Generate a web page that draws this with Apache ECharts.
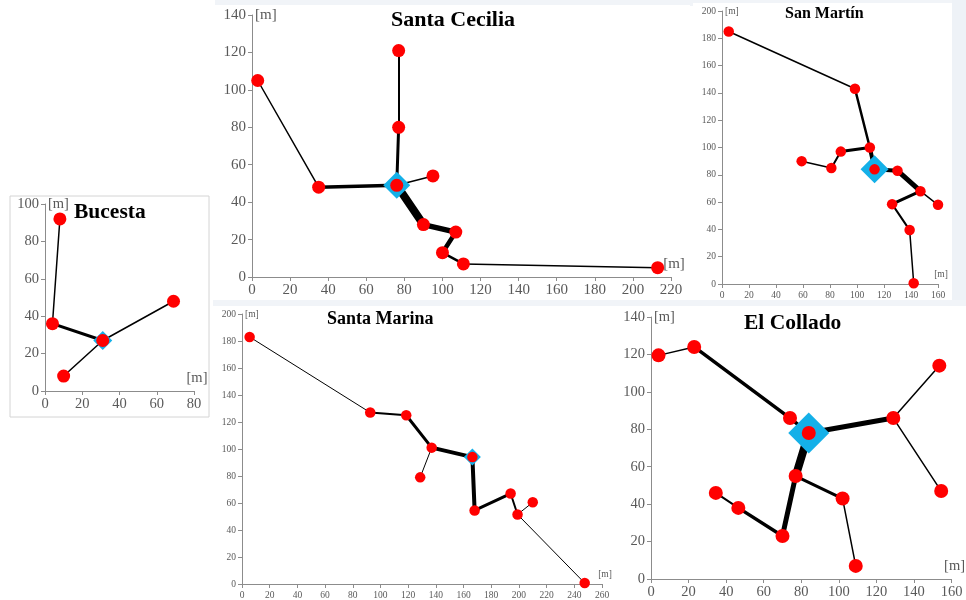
<!DOCTYPE html>
<html><head><meta charset="utf-8">
<script src="https://cdn.jsdelivr.net/npm/echarts@6/dist/echarts.min.js"></script>
<style>html,body{margin:0;padding:0;background:#fff}#c{width:966px;height:600px}</style>
</head><body><div id="c"></div>
<script>
// ---------- DATA ----------
const bucestaNodes = [[8,92],[4,36],[31,27],[69,48],[10,8]];
const bucestaEdges = [[0,1],[1,2],[2,3],[2,4]];
const bucestaFlow  = [1.5,3,1.5,1.5];
const bucestaSource = 2;

const ceciliaNodes = [[3,105],[35,48],[76,49],[77,121],[77,80],[95,54],[90,28],[107,24],[100,13],[111,7],[213,5]];
const ceciliaEdges = [[0,1],[1,2],[2,4],[4,3],[2,5],[2,6],[6,7],[7,8],[8,9],[9,10]];
const ceciliaFlow  = [1.5,3.5,3,2,1.5,8,5.5,4.5,2.5,1.5];
const ceciliaSource = 2;

const martinNodes = [[5,185],[98.5,143],[109.5,100],[88,97],[81,85],[59,90],[113,84],[130,83],[147,68],[160,58],[126,58.5],[139,39.5],[142,0.5]];
const martinEdges = [[0,1],[1,2],[2,3],[3,4],[4,5],[2,6],[6,7],[7,8],[8,9],[8,10],[10,11],[11,12]];
const martinFlow  = [1.5,2.5,3,2,1.5,4,4,5,1.5,3,2,1.5];
const martinSource = 6;

const marinaNodes = [[5.5,183],[92.6,127],[118.6,125],[137,101],[128.7,79],[166.4,94],[168,54.5],[194,67],[199,51.5],[210,60.5],[247.5,0.7]];
const marinaEdges = [[0,1],[1,2],[2,3],[3,4],[3,5],[5,6],[6,7],[7,8],[8,9],[8,10]];
const marinaFlow  = [1,2,3,1,4,4,3,2,1,1];
const marinaSource = 5;

const colladoNodes = [[4,119.5],[23,124],[74,86],[84,78],[129,86],[153.5,114],[154.5,47],[77,55],[102,43],[109,7],[70,23],[46.5,38],[34.5,46]];
const colladoEdges = [[0,1],[1,2],[2,3],[3,4],[4,5],[4,6],[3,7],[7,10],[10,11],[11,12],[7,8],[8,9]];
const colladoFlow  = [1.5,3.5,3.5,5,1.5,1.5,8,5,3.5,2,3,1.5];
const colladoSource = 3;

const titles = ['Bucesta','Santa Cecilia','San Martín','Santa Marina','El Collado'];
const xMax = [80,220,160,260,160];
const yMax = [100,140,200,200,140];
const tickStep = 20;

// ---------- LAYOUT / STYLE ----------
const panels = [
  {nodes:bucestaNodes, edges:bucestaEdges, flow:bucestaFlow, src:bucestaSource,
   grid:{left:45,top:204,width:149,height:187}, font:14.5, dot:13, dia:19,
   title:{left:74,top:201,size:21.5}},
  {nodes:ceciliaNodes, edges:ceciliaEdges, flow:ceciliaFlow, src:ceciliaSource,
   grid:{left:252,top:15,width:419,height:262}, font:15, dot:13, dia:27,
   title:{left:391,top:9,size:22}},
  {nodes:martinNodes, edges:martinEdges, flow:martinFlow, src:martinSource,
   grid:{left:722,top:11,width:216,height:273}, font:9.5, dot:10.5, dia:28,
   title:{left:785,top:6,size:16}},
  {nodes:marinaNodes, edges:marinaEdges, flow:marinaFlow, src:marinaSource,
   grid:{left:242,top:314,width:360,height:272}, font:9.5, dot:10.5, dia:17,
   title:{left:327,top:310,size:18}},
  {nodes:colladoNodes, edges:colladoEdges, flow:colladoFlow, src:colladoSource,
   grid:{left:651,top:317,width:306,height:262}, font:14.5, dot:14, dia:41,
   title:{left:744,top:312,size:21.5}}
];

const serif = '"Liberation Serif","DejaVu Serif",serif';
const axisCol = '#8c8c8c', labCol = '#595959';

const option = {
  animation:false,
  backgroundColor:'#ffffff',
  graphic:[
    {type:'rect', shape:{x:215,y:0,width:751,height:6}, style:{fill:'#f1f4f8'}, z:-10},
    {type:'rect', shape:{x:952,y:0,width:14,height:305}, style:{fill:'#eef2f7'}, z:-10},
    {type:'rect', shape:{x:213,y:300,width:753,height:6}, style:{fill:'#f1f4f8'}, z:-10},
    {type:'rect', shape:{x:10,y:196,width:199,height:221}, style:{fill:'#fff',stroke:'#d4d4d4',lineWidth:1}, z:-9},
    {type:'rect', shape:{x:213,y:5,width:477,height:295}, style:{fill:'#fff'}, z:-9},
    {type:'rect', shape:{x:693,y:3,width:259,height:297}, style:{fill:'#fff'}, z:-9},
    {type:'rect', shape:{x:213,y:306,width:395,height:294}, style:{fill:'#fff'}, z:-9},
    {type:'rect', shape:{x:612,y:306,width:354,height:294}, style:{fill:'#fff'}, z:-9}
  ],
  title:[], grid:[], xAxis:[], yAxis:[], series:[]
};

panels.forEach((p,i)=>{
  option.title.push({text:titles[i], left:p.title.left, top:p.title.top, padding:0,
    textStyle:{fontFamily:serif, fontWeight:'bold', fontSize:p.title.size, color:'#000'}});
  option.grid.push(Object.assign({containLabel:false}, p.grid));
  const axisCommon = {
    gridIndex:i, type:'value', min:0, interval:tickStep,
    axisLine:{show:true, lineStyle:{color:axisCol, width:1}},
    axisTick:{show:true, length:4, lineStyle:{color:axisCol}},
    splitLine:{show:false},
    axisLabel:{color:labCol, fontFamily:serif, fontSize:p.font, margin:6},
    name:'[m]',
    nameTextStyle:{color:labCol, fontFamily:serif, fontSize:p.font}
  };
  option.xAxis.push(Object.assign({}, axisCommon, {max:xMax[i], nameLocation:'end', nameGap:3,
    nameTextStyle:Object.assign({}, axisCommon.nameTextStyle, {align:'center', verticalAlign:'bottom', padding:[0,0,5,0]})}));
  option.yAxis.push(Object.assign({}, axisCommon, {max:yMax[i], nameLocation:'end', nameGap:0,
    nameTextStyle:Object.assign({}, axisCommon.nameTextStyle, {align:'left', verticalAlign:'middle', padding:[0,0,0,3]})}));

  option.series.push({
    type:'lines', coordinateSystem:'cartesian2d', xAxisIndex:i, yAxisIndex:i, z:2,
    silent:true,
    data:p.edges.map((e,k)=>({coords:[p.nodes[e[0]], p.nodes[e[1]]],
      lineStyle:{width:p.flow[k], color:'#000', opacity:1, cap:'round'}})),
    lineStyle:{color:'#000', opacity:1}
  });
  option.series.push({
    type:'scatter', xAxisIndex:i, yAxisIndex:i, z:3, silent:true,
    symbol:'diamond', symbolSize:p.dia,
    itemStyle:{color:'#14b0e8', opacity:1},
    data:[p.nodes[p.src]]
  });
  option.series.push({
    type:'scatter', xAxisIndex:i, yAxisIndex:i, z:4, silent:true,
    symbol:'circle', symbolSize:p.dot,
    itemStyle:{color:'#ff0000', opacity:1},
    data:p.nodes
  });
});

const chart = echarts.init(document.getElementById('c'), null, {renderer:'canvas'});
chart.setOption(option);
</script>
</body></html>
